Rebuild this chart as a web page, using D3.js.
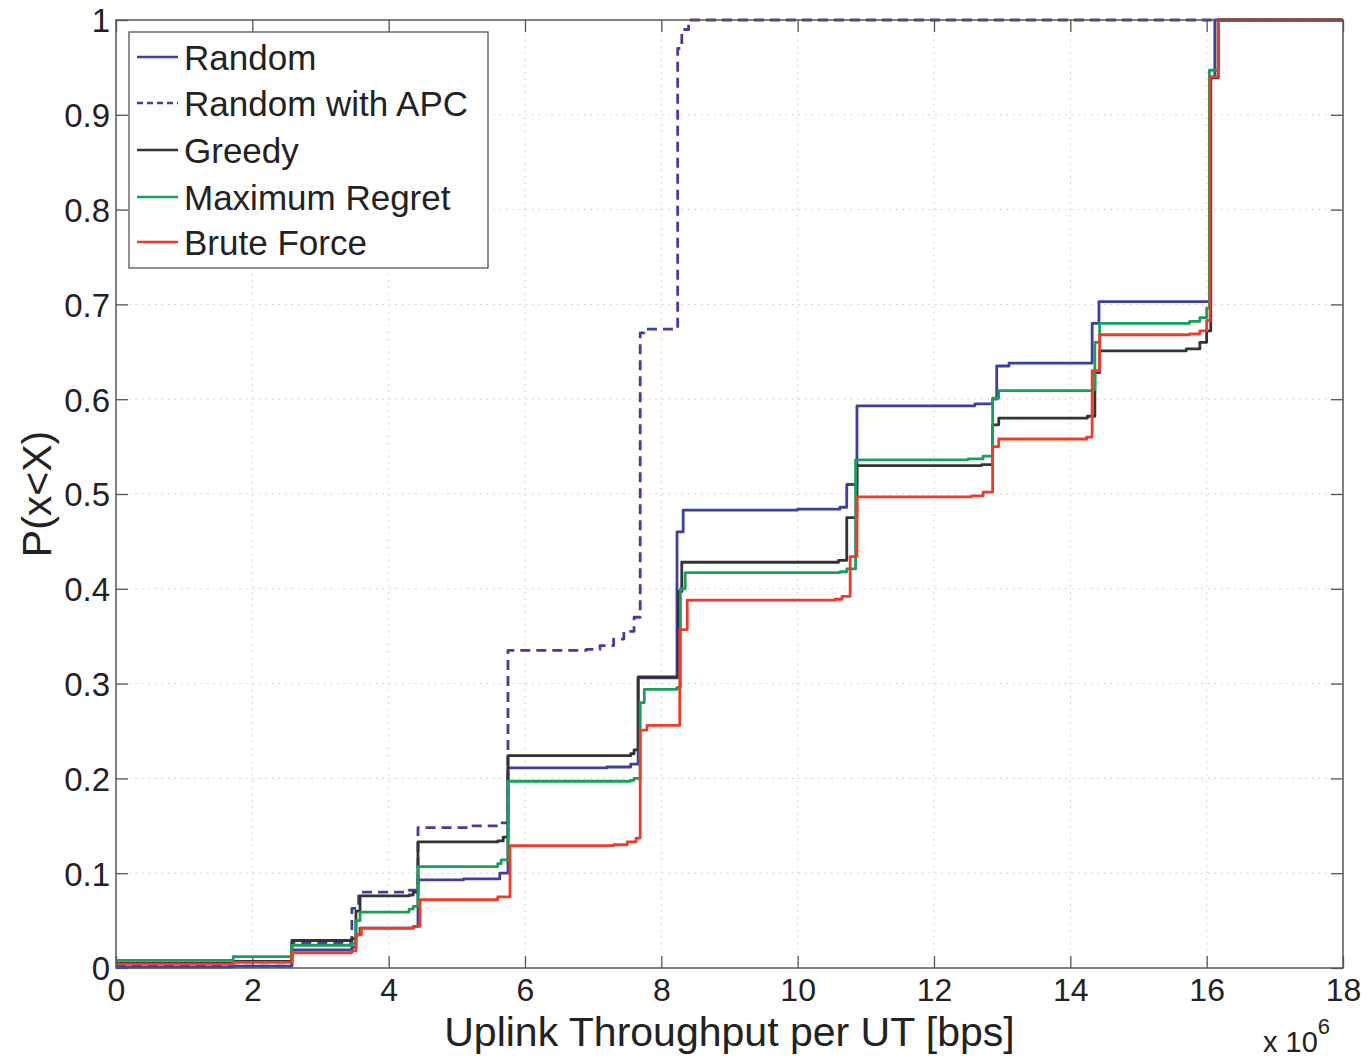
<!DOCTYPE html>
<html>
<head>
<meta charset="utf-8">
<script src="https://cdn.jsdelivr.net/npm/d3@7"></script>
<style>
  html, body { margin: 0; padding: 0; background: #fff; }
  svg text { font-family: "Liberation Sans", Arial, Helvetica, sans-serif; fill: #222; }
</style>
</head>
<body>
<svg id="chart" width="1370" height="1059"></svg>
<script>
// Axis ticks
const xTicks = [0, 2, 4, 6, 8, 10, 12, 14, 16, 18];
const yTicks = [0, 0.1, 0.2, 0.3, 0.4, 0.5, 0.6, 0.7, 0.8, 0.9, 1];

// Empirical CDF steps: [throughput (x 10^6 bps), P(x<X)]
const randomSteps = [
  [0, 0.001], [1.72, 0.002], [2.58, 0.019], [3.46, 0.022], [3.52, 0.035], [3.58, 0.042],
  [4.36, 0.044], [4.43, 0.093], [5.1, 0.094], [5.63, 0.10], [5.75, 0.211], [7.2, 0.212],
  [7.55, 0.215], [7.66, 0.306], [8.23, 0.46], [8.32, 0.483], [10.0, 0.484], [10.62, 0.486],
  [10.72, 0.51], [10.87, 0.593], [12.6, 0.595], [12.86, 0.60], [12.92, 0.635], [13.1, 0.638],
  [14.32, 0.68], [14.42, 0.703], [16.05, 0.94], [16.12, 1], [18, 1]
];
const randomApcSteps = [
  [0, 0.002], [2.58, 0.026], [3.46, 0.063], [3.56, 0.08], [4.3, 0.082], [4.43, 0.148],
  [5.2, 0.15], [5.6, 0.153], [5.75, 0.335], [6.9, 0.336], [7.1, 0.34], [7.3, 0.347],
  [7.45, 0.355], [7.6, 0.37], [7.69, 0.67], [7.75, 0.674], [8.24, 0.97], [8.3, 0.99],
  [8.4, 1], [18, 1]
];
const greedySteps = [
  [0, 0.005], [1.72, 0.007], [2.58, 0.029], [3.46, 0.031], [3.52, 0.06], [3.58, 0.076],
  [4.3, 0.077], [4.36, 0.08], [4.43, 0.133], [5.6, 0.134], [5.68, 0.138], [5.75, 0.224],
  [7.55, 0.226], [7.6, 0.23], [7.66, 0.307], [8.25, 0.397], [8.3, 0.428], [10.6, 0.43],
  [10.72, 0.475], [10.87, 0.53], [12.7, 0.531], [12.86, 0.573], [12.95, 0.58], [14.25, 0.582],
  [14.36, 0.628], [14.43, 0.651], [15.7, 0.653], [15.9, 0.66], [16.0, 0.672], [16.06, 0.939],
  [16.17, 1], [18, 1]
];
const maxRegretSteps = [
  [0, 0.008], [1.72, 0.012], [2.58, 0.024], [3.46, 0.026], [3.52, 0.05], [3.58, 0.059],
  [4.3, 0.062], [4.36, 0.065], [4.43, 0.107], [5.6, 0.11], [5.65, 0.114], [5.75, 0.197],
  [7.55, 0.198], [7.6, 0.2], [7.69, 0.28], [7.75, 0.294], [8.23, 0.296], [8.28, 0.40],
  [8.35, 0.417], [10.62, 0.418], [10.72, 0.421], [10.85, 0.536], [12.5, 0.537], [12.72, 0.54],
  [12.86, 0.601], [12.95, 0.609], [14.32, 0.61], [14.36, 0.66], [14.43, 0.68], [15.75, 0.682],
  [15.9, 0.686], [16.0, 0.696], [16.04, 0.947], [16.17, 1], [18, 1]
];
const bruteForceSteps = [
  [0, 0.004], [1.72, 0.006], [2.58, 0.016], [3.46, 0.018], [3.52, 0.035], [3.6, 0.042],
  [4.36, 0.044], [4.46, 0.072], [5.6, 0.075], [5.78, 0.129], [7.3, 0.13], [7.5, 0.133],
  [7.63, 0.137], [7.69, 0.251], [7.79, 0.256], [8.27, 0.357], [8.38, 0.388], [10.55, 0.389],
  [10.65, 0.392], [10.77, 0.434], [10.87, 0.497], [12.55, 0.498], [12.72, 0.502], [12.86, 0.55],
  [12.95, 0.558], [14.24, 0.56], [14.32, 0.63], [14.43, 0.668], [15.75, 0.669], [15.9, 0.672],
  [16.0, 0.683], [16.05, 0.94], [16.17, 1], [18, 1]
];

const seriesNames = ["Random", "Random with APC", "Greedy", "Maximum Regret", "Brute Force"];
const seriesColors = ["#3f3f9e", "#3f3f9e", "#333333", "#1a9e5c", "#ee3b2c"];
const seriesDashes = [null, "10,6", null, null, null];
const seriesData = [randomSteps, randomApcSteps, greedySteps, maxRegretSteps, bruteForceSteps];

const svg = d3.select("#chart");
const m = { left: 116, right: 1343, top: 20, bottom: 968 };

const x = d3.scaleLinear().domain([0, 18]).range([m.left, m.right]);
const y = d3.scaleLinear().domain([0, 1]).range([m.bottom, m.top]);

// dotted grid
const grid = svg.append("g");
grid.selectAll("line.gx").data(xTicks.slice(1, -1)).join("line")
  .attr("x1", d => x(d)).attr("x2", d => x(d))
  .attr("y1", m.top).attr("y2", m.bottom)
  .attr("stroke", "#c8c8c8").attr("stroke-width", 1).attr("stroke-dasharray", "1.5,5");
grid.selectAll("line.gy").data(yTicks.slice(1, -1)).join("line")
  .attr("x1", m.left).attr("x2", m.right)
  .attr("y1", d => y(d)).attr("y2", d => y(d))
  .attr("stroke", "#c8c8c8").attr("stroke-width", 1).attr("stroke-dasharray", "1.5,5");

// axes with inward ticks (bottom/left labelled, top/right bare)
const tickLen = 12;
const fmtY = d => d === 0 ? "0" : d === 1 ? "1" : d3.format(".1f")(d);
const axB = svg.append("g").attr("transform", `translate(0,${m.bottom})`)
  .call(d3.axisBottom(x).tickValues(xTicks).tickSizeInner(-tickLen).tickSizeOuter(0).tickPadding(10).tickFormat(d3.format("d")));
const axL = svg.append("g").attr("transform", `translate(${m.left},0)`)
  .call(d3.axisLeft(y).tickValues(yTicks).tickSizeInner(-tickLen).tickSizeOuter(0).tickPadding(6).tickFormat(fmtY));
const axT = svg.append("g").attr("transform", `translate(0,${m.top})`)
  .call(d3.axisTop(x).tickValues(xTicks).tickSizeInner(-tickLen).tickSizeOuter(0).tickFormat(""));
const axR = svg.append("g").attr("transform", `translate(${m.right},0)`)
  .call(d3.axisRight(y).tickValues(yTicks).tickSizeInner(-tickLen).tickSizeOuter(0).tickFormat(""));
[axB, axL, axT, axR].forEach(a => {
  a.select(".domain").remove();
  a.selectAll(".tick line").attr("stroke", "#555").attr("stroke-width", 1.3);
  a.selectAll(".tick text").attr("font-size", 33).attr("fill", "#222")
    .style("font-family", '"Liberation Sans", Arial, sans-serif');
});
axB.selectAll(".tick text").attr("font-size", 32);
axL.selectAll(".tick text").attr("dy", "0.36em");

// series lines
const line = d3.line().x(d => x(d[0])).y(d => y(d[1])).curve(d3.curveStepAfter);
seriesData.forEach((data, i) => {
  svg.append("path").datum(data)
    .attr("d", line)
    .attr("fill", "none")
    .attr("stroke", seriesColors[i])
    .attr("stroke-width", 2.8)
    .attr("stroke-dasharray", seriesDashes[i])
    .attr("stroke-linejoin", "round");
});

// plot frame
svg.append("rect")
  .attr("x", m.left).attr("y", m.top)
  .attr("width", m.right - m.left).attr("height", m.bottom - m.top)
  .attr("fill", "none").attr("stroke", "#555").attr("stroke-width", 1.5);

// legend
const lg = svg.append("g");
lg.append("rect").attr("x", 129).attr("y", 32).attr("width", 359).attr("height", 236)
  .attr("fill", "#fff").attr("stroke", "#555").attr("stroke-width", 1.3);
const rowY = [57, 103, 150, 197, 242];
seriesNames.forEach((name, i) => {
  lg.append("line")
    .attr("x1", 137).attr("x2", 178).attr("y1", rowY[i]).attr("y2", rowY[i])
    .attr("stroke", seriesColors[i]).attr("stroke-width", 2.4)
    .attr("stroke-dasharray", i === 1 ? "6,4" : null);
  lg.append("text")
    .attr("x", 184).attr("y", rowY[i]).attr("dy", "0.36em")
    .attr("font-size", 35).text(name);
});

// axis titles
svg.append("text")
  .attr("x", (m.left + m.right) / 2).attr("y", 1046)
  .attr("text-anchor", "middle").attr("font-size", 41)
  .text("Uplink Throughput per UT [bps]");
svg.append("text")
  .attr("transform", `translate(51,${(m.top + m.bottom) / 2}) rotate(-90)`)
  .attr("text-anchor", "middle").attr("font-size", 41)
  .text("P(x<X)");
const ex = svg.append("text").attr("x", 1263).attr("y", 1052).attr("font-size", 29);
ex.append("tspan").text("x 10");
ex.append("tspan").attr("dy", -18).attr("font-size", 22).text("6");
</script>
</body>
</html>
